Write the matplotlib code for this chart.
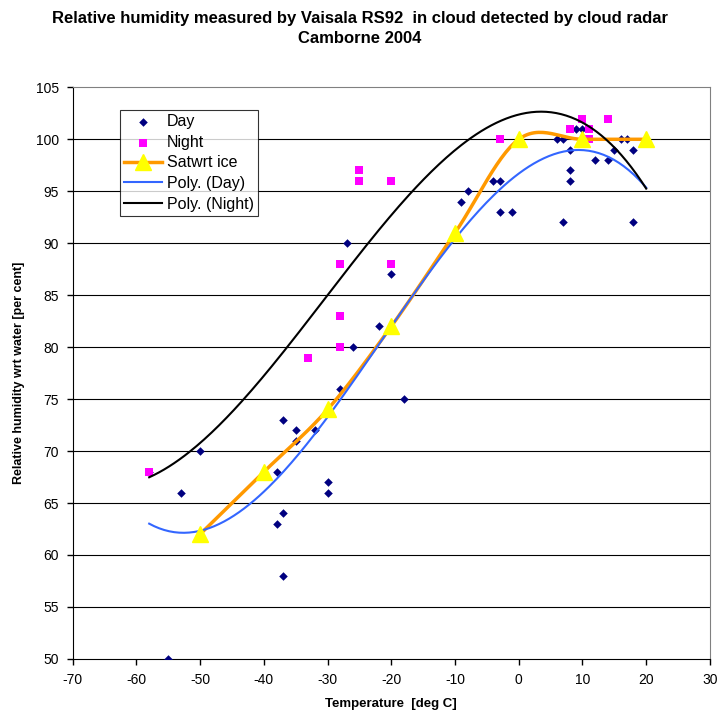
import numpy as np
import matplotlib.pyplot as plt

# Day soundings (temperature deg C, RH wrt water %)
day_temp = [-58, -55, -53, -50, -38, -38, -37, -37, -37, -35, -35, -32, -30, -30, -28, -27, -26,
            -22, -20, -18, -9, -8, -4, -3, -3, -1, 6, 7, 7, 8, 8, 8, 9, 10, 12, 14, 15, 16, 17, 18, 18]
day_rh = [68, 50, 66, 70, 68, 63, 73, 64, 58, 72, 71, 72, 67, 66, 76, 90, 80,
          82, 87, 75, 94, 95, 96, 96, 93, 93, 100, 100, 92, 99, 97, 96, 101, 101, 98, 98, 99, 100, 100, 99, 92]

# Night soundings
night_temp = [-58, -33, -28, -28, -28, -25, -25, -20, -20, -3, 8, 10, 11, 11, 14]
night_rh = [68, 79, 88, 83, 80, 97, 96, 96, 88, 100, 101, 102, 101, 100, 102]

# saturation wrt ice
ice_temp = [-50, -40, -30, -20, -10, 0, 10, 20]
ice_rh = [62, 68, 74, 82, 91, 100, 100, 100]

x_ticks = np.arange(-70, 31, 10)
y_ticks = np.arange(50, 106, 5)


def smooth_line(x, y, n=30):
    '''Excel style smoothed line: bezier segments with catmull-rom control points'''
    x = np.asarray(x, float)
    y = np.asarray(y, float)
    px = np.concatenate([[x[0]], x, [x[-1]]])
    py = np.concatenate([[y[0]], y, [y[-1]]])
    xs, ys = [], []
    t = np.linspace(0, 1, n)
    for i in range(1, len(x)):
        p0 = np.array([px[i], py[i]])
        p3 = np.array([px[i + 1], py[i + 1]])
        c1 = p0 + (p3 - np.array([px[i - 1], py[i - 1]])) / 6
        c2 = p3 - (np.array([px[i + 2], py[i + 2]]) - p0) / 6
        b = ((1 - t) ** 3)[:, None] * p0 + (3 * (1 - t) ** 2 * t)[:, None] * c1 \
            + (3 * (1 - t) * t ** 2)[:, None] * c2 + (t ** 3)[:, None] * p3
        xs.extend(b[:, 0])
        ys.extend(b[:, 1])
    return np.array(xs), np.array(ys)


def trend(x, y, deg, x_range):
    coef = np.polyfit(x, y, deg)
    xx = np.linspace(x_range[0], x_range[1], 200)
    return xx, np.polyval(coef, xx)


plt.rcParams['font.family'] = ['Liberation Sans', 'DejaVu Sans']
plt.rcParams['axes.unicode_minus'] = False
fig = plt.figure(figsize=(7.2, 7.1), dpi=100)
ax = fig.add_axes([0.101, 0.072, 0.885, 0.805])

for yv in y_ticks[1:-1]:
    ax.axhline(yv, color='black', lw=0.8, zorder=1)

x_range = (min(day_temp + night_temp), 20)

ax.scatter(day_temp, day_rh, marker='D', s=19, color='#000080', lw=0, zorder=4, label='Day')
ax.scatter(night_temp, night_rh, marker='s', s=34, color='#FF00FF', lw=0, zorder=4.5, label='Night')

sx, sy = smooth_line(ice_temp, ice_rh)
ax.plot(sx, sy, color='#FF9900', lw=2.5, zorder=5)
ax.plot(ice_temp, ice_rh, ls='none', marker='^', ms=11, color='#FFFF00', zorder=6)
ax.plot([], [], color='#FF9900', lw=2.5, marker='^', ms=11, mfc='#FFFF00', mec='#FFFF00', label='Satwrt ice')

dx, dy = trend(day_temp, day_rh, 3, x_range)
ax.plot(dx, dy, color='#3366FF', lw=1.5, zorder=5, label='Poly. (Day)')
nx, ny = trend(night_temp, night_rh, 3, x_range)
ax.plot(nx, ny, color='black', lw=1.5, zorder=5, label='Poly. (Night)')

ax.set_xlim(-70, 30)
ax.set_ylim(50, 105)
ax.set_xticks(x_ticks)
ax.set_yticks(y_ticks)
ax.tick_params(direction='out', length=4, width=1, labelsize=10, pad=6)
for s in ['top', 'right']:
    ax.spines[s].set_color('#808080')
for s in ['left', 'bottom']:
    ax.spines[s].set_color('black')

ax.set_xlabel('Temperature  [deg C]', fontsize=9.5, fontweight='bold', labelpad=8)
ax.set_ylabel('Relative humidity wrt water [per cent]', fontsize=9, fontweight='bold', labelpad=8)
fig.suptitle('Relative humidity measured by Vaisala RS92  in cloud detected by cloud radar\nCamborne 2004',
             y=0.985, fontsize=12, fontweight='bold', linespacing=1.45)

leg = ax.legend(loc='upper left', bbox_to_anchor=(0.074, 0.96), fontsize=11.5, frameon=True,
                fancybox=False, edgecolor='black', borderpad=0.25, labelspacing=0.35,
                handlelength=2.4, handletextpad=0.3, borderaxespad=0)
leg.get_frame().set_linewidth(0.8)

fig.savefig('out.png', dpi=100)
